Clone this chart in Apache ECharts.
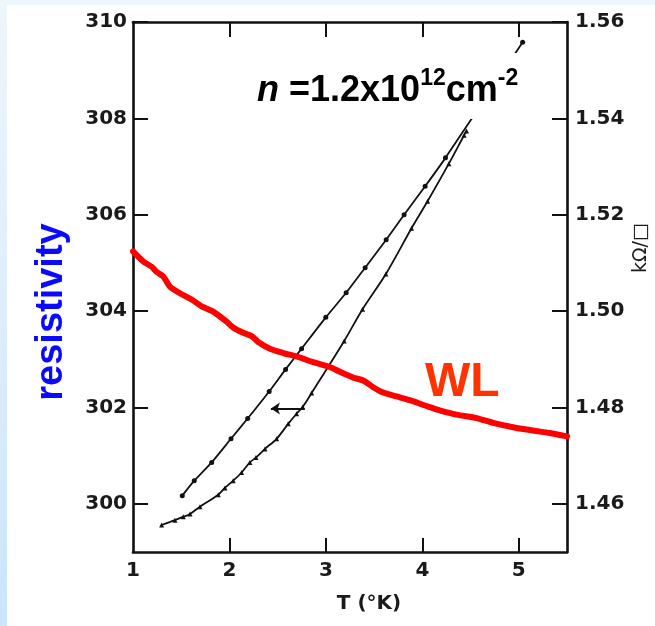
<!DOCTYPE html>
<html>
<head>
<meta charset="utf-8">
<script src="https://cdn.jsdelivr.net/npm/echarts@6/dist/echarts.min.js"></script>
<style>
  html, body { margin: 0; padding: 0; width: 655px; height: 626px; overflow: hidden; }
  body { background: linear-gradient(to bottom, #eef6fd 0%, #d9ecfb 60%, #cbe4f9 100%); position: relative; }
  #paper { position: absolute; left: 7px; top: 5px; width: 648px; height: 621px; background: #ffffff; }
  #chart { position: absolute; left: 0; top: 0; width: 655px; height: 626px; }
</style>
</head>
<body>
<div id="paper"></div>
<div id="chart"></div>
<script>
// ---- data ----
// upper curve (dots)
const T_upper = [1.511, 1.635, 1.816, 2.016, 2.189, 2.412, 2.582, 2.748, 2.999, 3.21, 3.407, 3.625, 3.811, 4.029, 4.24, 5.04];
const R_upper = [300.17, 300.48, 300.86, 301.35, 301.77, 302.33, 302.79, 303.22, 303.87, 304.38, 304.90, 305.48, 306.0, 306.59, 307.18, 309.58];
// lower curve (triangles)
const T_lower = [1.297, 1.435, 1.521, 1.591, 1.694, 1.884, 1.953, 2.039, 2.126, 2.212, 2.275, 2.368, 2.489, 2.609, 2.696, 2.759, 2.852, 3.19, 3.38, 3.622, 3.888, 4.054, 4.275, 4.433, 4.458];
const R_lower = [299.56, 299.66, 299.73, 299.79, 299.94, 300.19, 300.33, 300.48, 300.65, 300.86, 300.96, 301.14, 301.35, 301.66, 301.87, 302.01, 302.30, 303.38, 304.04, 304.77, 305.72, 306.28, 307.06, 307.65, 307.74];
// red WL curve
const T_wl = [1.0, 1.107, 1.194, 1.246, 1.314, 1.383, 1.487, 1.608, 1.712, 1.832, 1.971, 2.039, 2.143, 2.23, 2.298, 2.42, 2.558, 2.696, 2.868, 3.041, 3.145, 3.283, 3.387, 3.49, 3.594, 3.733, 3.87, 4.044, 4.181, 4.354, 4.562, 4.734, 4.941, 5.148, 5.321, 5.5];
const R_wl = [305.24, 305.03, 304.92, 304.81, 304.72, 304.51, 304.37, 304.24, 304.10, 303.99, 303.78, 303.66, 303.55, 303.48, 303.36, 303.22, 303.13, 303.06, 302.94, 302.84, 302.74, 302.62, 302.56, 302.42, 302.31, 302.23, 302.15, 302.03, 301.94, 301.85, 301.78, 301.68, 301.59, 301.52, 301.47, 301.40];
// arrow annotation (from, to) on lower curve
const arrowT = [2.78, 2.43];
const arrowR = 301.98;
// ticks
const xTicks = [1, 2, 3, 4, 5];
const xInnerTicks = [2, 3, 4, 5];
const yLeftTicks = [300, 302, 304, 306, 308, 310];
const yRightTicks = [1.46, 1.48, 1.50, 1.52, 1.54, 1.56];

const pairs = (xs, ys) => xs.map((x, i) => [x, ys[i]]);

const labelFont = { fontFamily: 'DejaVu Sans', fontWeight: 'bold', fontSize: 20, color: '#1a1a1a' };
const axisLine = { show: true, lineStyle: { color: '#111', width: 2.6 } };
const tickStyle = { color: '#111', width: 2 };

const chart = echarts.init(document.getElementById('chart'), null, { renderer: 'canvas' });
chart.setOption({
  backgroundColor: 'transparent',
  animation: false,
  grid: { left: 133, right: 88, top: 22, bottom: 74, containLabel: false },
  xAxis: [
    {
      type: 'value', position: 'bottom', min: 1, max: 5.5,
      axisLine: axisLine,
      axisTick: { show: true, inside: true, length: 14, customValues: xInnerTicks, lineStyle: tickStyle },
      axisLabel: Object.assign({ margin: 9, customValues: xTicks }, labelFont),
      splitLine: { show: false }
    },
    {
      type: 'value', position: 'top', min: 1, max: 5.5,
      axisLine: axisLine,
      axisTick: { show: true, inside: true, length: 15, customValues: xInnerTicks, lineStyle: tickStyle },
      axisLabel: { show: false },
      splitLine: { show: false }
    }
  ],
  yAxis: [
    {
      type: 'value', position: 'left', min: 299, max: 310,
      axisLine: axisLine,
      axisTick: { show: true, inside: true, length: 15, customValues: yLeftTicks, lineStyle: tickStyle },
      axisLabel: Object.assign({ margin: 6, customValues: yLeftTicks }, labelFont),
      splitLine: { show: false }
    },
    {
      type: 'value', position: 'right', min: 1.45, max: 1.56,
      axisLine: axisLine,
      axisTick: { show: true, inside: true, length: 15, customValues: yRightTicks, lineStyle: tickStyle },
      axisLabel: Object.assign({ margin: 8, customValues: yRightTicks, formatter: v => v.toFixed(2) }, labelFont),
      splitLine: { show: false }
    }
  ],
  series: [
    {
      type: 'line', name: 'upper', xAxisIndex: 0, yAxisIndex: 0,
      data: pairs(T_upper, R_upper),
      smooth: 0.2, symbol: 'circle', symbolSize: 5,
      itemStyle: { color: '#111' },
      lineStyle: { color: '#111', width: 1.8 },
      z: 3
    },
    {
      type: 'line', name: 'lower', xAxisIndex: 0, yAxisIndex: 0,
      data: pairs(T_lower, R_lower),
      smooth: 0.3, symbol: 'triangle', symbolSize: 5,
      itemStyle: { color: '#111' },
      lineStyle: { color: '#111', width: 1.8 },
      markLine: {
        silent: true, symbol: ['none', 'arrow'], symbolSize: 9,
        label: { show: false },
        lineStyle: { color: '#111', width: 1.8, type: 'solid' },
        data: [[{ coord: [arrowT[0], arrowR] }, { coord: [arrowT[1], arrowR] }]]
      },
      z: 3
    },
    {
      type: 'line', name: 'WL', xAxisIndex: 0, yAxisIndex: 0,
      data: pairs(T_wl, R_wl),
      smooth: 0.25, symbol: 'none',
      lineStyle: { color: '#ff0000', width: 6, cap: 'round', join: 'round' },
      z: 4
    }
  ],
  graphic: [
    { type: 'rect', shape: { x: 250, y: 53, width: 290, height: 66 }, style: { fill: '#ffffff' }, z: 50 },
    {
      type: 'text', x: 257, y: 67, z: 51,
      style: {
        text: '{i|n}{b| =1.2x10}{s|12}{b|cm}{s|-2}',
        rich: {
          i: { fontFamily: 'Liberation Sans', fontStyle: 'italic', fontWeight: 'bold', fontSize: 36, lineHeight: 42, verticalAlign: 'bottom', fill: '#000' },
          b: { fontFamily: 'Liberation Sans', fontWeight: 'bold', fontSize: 36, lineHeight: 42, verticalAlign: 'bottom', fill: '#000' },
          s: { fontFamily: 'Liberation Sans', fontWeight: 'bold', fontSize: 23, lineHeight: 26, verticalAlign: 'top', fill: '#000' }
        }
      }
    },
    {
      type: 'text', x: 425, y: 359, z: 51,
      style: { text: 'WL', fontFamily: 'Liberation Sans', fontWeight: 'bold', fontSize: 48, fill: '#ff3300' }
    },
    {
      type: 'text', x: 52, y: 312, rotation: Math.PI / 2, z: 51,
      style: { text: 'resistivity', fontFamily: 'Liberation Sans', fontWeight: 'bold', fontSize: 38, fill: '#0a0aff', align: 'center', verticalAlign: 'middle' }
    },
    {
      type: 'text', x: 641, y: 248, rotation: Math.PI / 2, z: 51,
      style: { text: 'kΩ/□', fontFamily: 'DejaVu Sans', fontSize: 19, fill: '#1a1a1a', align: 'center', verticalAlign: 'middle' }
    },
    {
      type: 'text', x: 369, y: 604, z: 51,
      style: { text: 'T (°K)', fontFamily: 'DejaVu Sans', fontWeight: 'bold', fontSize: 20, fill: '#1a1a1a', align: 'center', verticalAlign: 'middle' }
    }
  ]
});
</script>
</body>
</html>
